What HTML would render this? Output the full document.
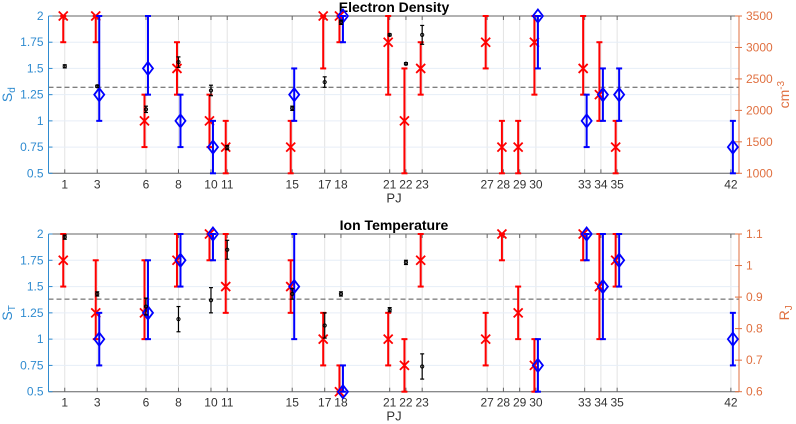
<!DOCTYPE html>
<html><head><meta charset="utf-8">
<style>
html,body{margin:0;padding:0;background:#fff;}
svg{display:block;font-family:"Liberation Sans",sans-serif;}
</style></head>
<body>
<svg id="chart" width="796" height="424" viewBox="0 0 796 424" xmlns="http://www.w3.org/2000/svg"></svg>
<script>
// ---- data ----
const pjTicks = [1,3,6,8,10,11,15,17,18,21,22,23,27,28,29,30,33,34,35,42];
const leftTicks = [0.5,0.75,1,1.25,1.5,1.75,2];
// Panel 1: Electron Density (S_d)
const sdRedPJ  = [1,3,6,8,10,11,15,17,18,21,22,23,27,28,29,30,33,34,35];
const sdRedVal = [2,2,1,1.5,1,0.75,0.75,2,2,1.75,1,1.5,1.75,0.75,0.75,1.75,1.5,1.25,0.75];
const sdRedLo  = [1.75,1.75,0.75,1.25,0.75,0.5,0.5,1.5,1.75,1.25,0.5,1.25,1.5,0.5,0.5,1.25,1.25,1,0.5];
const sdRedHi  = [2,2,1.25,1.75,1.25,1,1,2,2,2,1.5,1.75,2,1,1,2,2,1.75,1];
const sdBluePJ  = [3,6,8,10,15,18,30,33,34,35,42];
const sdBlueVal = [1.25,1.5,1,0.75,1.25,2,2,1,1.25,1.25,0.75];
const sdBlueLo  = [1,1.25,0.75,0.5,1,1.75,1.5,0.75,1,1,0.5];
const sdBlueHi  = [2,2,1.25,1,1.5,2,2,1.25,1.5,1.5,1];
const sdBlkPJ  = [1,3,6,8,10,11,15,17,18,21,22,23];
const sdBlkVal = [1.52,1.33,1.11,1.56,1.29,0.745,1.12,1.37,1.94,1.82,1.545,1.82];
const sdBlkErr = [0.015,0.01,0.03,0.05,0.05,0.02,0.02,0.05,0.02,0.01,0.01,0.09];
const sdMean = 1.32;
const sdRightTicks = [1000,1500,2000,2500,3000,3500];
// Panel 2: Ion Temperature (S_T)
const stRedPJ  = [1,3,6,8,10,11,15,17,18,21,22,23,27,28,29,30,33,34,35];
const stRedVal = [1.75,1.25,1.25,1.75,2,1.5,1.5,1,0.5,1,0.75,1.75,1,2,1.25,0.75,2,1.5,1.75];
const stRedLo  = [1.5,1,1,1.5,1.75,1.25,1.25,0.75,0.5,0.75,0.5,1.5,0.75,1.75,1,0.5,1.75,1,1.5];
const stRedHi  = [2,1.75,1.75,2,2,2,1.75,1.25,0.75,1.25,1,2,1.25,2,1.5,1,2,2,2];
const stBluePJ  = [3,6,8,10,15,18,30,33,34,35,42];
const stBlueVal = [1,1.25,1.75,2,1.5,0.5,0.75,2,1.5,1.75,1];
const stBlueLo  = [0.75,1,1.5,1.75,1,0.5,0.5,1.75,1,1.5,0.75];
const stBlueHi  = [1.25,1.75,2,2,2,0.75,1,2,2,2,1.25];
const stBlkPJ  = [1,3,6,8,10,11,15,17,18,21,22,23];
const stBlkVal = [1.97,1.43,1.31,1.19,1.37,1.85,1.43,1.13,1.43,1.28,1.73,0.74];
const stBlkErr = [0.02,0.02,0.08,0.12,0.12,0.09,0.05,0.12,0.02,0.02,0.02,0.12];
const stMean = 1.38;
const stRightTicks = [0.6,0.7,0.8,0.9,1.0,1.1];

const NS="http://www.w3.org/2000/svg";
const svg=document.getElementById('chart');
const ORANGE="#D95319", LBLUE="#2f8bd0", RLAB="#e07040";
function mk(tag,attrs,parent,text){const e=document.createElementNS(NS,tag);for(const k in attrs)e.setAttribute(k,attrs[k]);if(text!==undefined)e.textContent=text;(parent||svg).appendChild(e);return e;}

const X0=48.5,X1=739,PJmin=0,PJmax=42.5;
function xs(pj){return X0+(pj-PJmin)/(PJmax-PJmin)*(X1-X0);}

function panel(cfg){
  const g=mk('g',{});
  
  
  const T=cfg.top,B=cfg.bottom;
  const ys=v=>B-(v-0.5)/1.5*(B-T);
  const yr=v=>B-(v-cfg.rmin)/(cfg.rmax-cfg.rmin)*(B-T);
  for(const p of pjTicks){const l=mk('line',{x1:xs(p),x2:xs(p),y1:T,y2:B,stroke:'#e3e3e3','stroke-width':1},g);
    }
  for(const v of leftTicks){const l=mk('line',{x1:X0,x2:X1,y1:ys(v),y2:ys(v),stroke:'#e6eef7','stroke-width':1},g);
    }
  const d=mk('line',{x1:X0,x2:X1,y1:ys(cfg.mean),y2:ys(cfg.mean),stroke:'#555','stroke-width':1,'stroke-dasharray':'5,3'},g);
  
  mk('line',{x1:X0,x2:X1,y1:T,y2:T,stroke:'#666','stroke-width':1},g);
  const xa=mk('line',{x1:X0,x2:X1,y1:B,y2:B,stroke:'#666','stroke-width':1},g);
  
  const la=mk('line',{x1:X0,x2:X0,y1:T,y2:B,stroke:LBLUE,'stroke-width':1},g);
  
  const ra=mk('line',{x1:X1,x2:X1,y1:T,y2:B,stroke:RLAB,'stroke-width':1},g);
  
  for(const p of pjTicks){
    mk('line',{x1:xs(p),x2:xs(p),y1:B,y2:B-4,stroke:'#666'},g);
    mk('line',{x1:xs(p),x2:xs(p),y1:T,y2:T+4,stroke:'#666'},g);
    const t=mk('text',{x:xs(p),y:B+15,'text-anchor':'middle','font-size':12,fill:'#333'},g,String(p));
    
  }
  for(const v of leftTicks){
    mk('line',{x1:X0,x2:X0+4,y1:ys(v),y2:ys(v),stroke:LBLUE},g);
    const t=mk('text',{x:X0-5,y:ys(v)+4,'text-anchor':'end','font-size':12,fill:LBLUE},g,String(v));
    
  }
  for(const v of cfg.rticks){
    mk('line',{x1:X1,x2:X1-4,y1:yr(v),y2:yr(v),stroke:RLAB},g);
    mk('line',{x1:X1,x2:X1+3,y1:yr(v),y2:yr(v),stroke:RLAB},g);
    const t=mk('text',{x:X1+7,y:yr(v)+4,'text-anchor':'start','font-size':12,fill:RLAB},g,cfg.rfmt(v));
    
  }
  const tt=mk('text',{x:394,y:T-4,'text-anchor':'middle','font-size':14,'font-weight':'bold',fill:'#000'},g,cfg.title);
  
  const xl=mk('text',{x:394,y:B+29,'text-anchor':'middle','font-size':13,fill:'#333'},g,'PJ');
  
  const yl=mk('text',{x:0,y:0,'text-anchor':'middle','font-size':14,fill:LBLUE,transform:`translate(12,${(T+B)/2}) rotate(-90)`},g);
  
  mk('tspan',{},yl,'S');mk('tspan',{'font-size':10,dy:3},yl,cfg.sub);
  const rl=mk('text',{x:0,y:0,'text-anchor':'middle','font-size':14,fill:RLAB,transform:`translate(789,${(T+B)/2}) rotate(-90)`},g);
  
  if(cfg.rlabel==='cm'){mk('tspan',{},rl,'cm');mk('tspan',{'font-size':10,dy:-5},rl,'-3');}
  else {mk('tspan',{},rl,'R');mk('tspan',{'font-size':10,dy:3},rl,'J');}
  function ebar(x,lo,hi,color,w,cap,name){
    const eg=mk('g',{},g);
    
    
    mk('line',{x1:x,x2:x,y1:ys(lo),y2:ys(hi),stroke:color,'stroke-width':w},eg);
    mk('line',{x1:x-cap,x2:x+cap,y1:ys(lo),y2:ys(lo),stroke:color,'stroke-width':w},eg);
    mk('line',{x1:x-cap,x2:x+cap,y1:ys(hi),y2:ys(hi),stroke:color,'stroke-width':w},eg);
    return eg;
  }
  cfg.red.pj.forEach((p,i)=>{
    const x=xs(p)-1.5;
    const eg=ebar(x,cfg.red.lo[i],cfg.red.hi[i],'#ff0000',2,3,'red-errorbar');
    const y=ys(cfg.red.val[i]),s=4.5;
    const m=mk('path',{d:`M${x-s},${y-s}L${x+s},${y+s}M${x-s},${y+s}L${x+s},${y-s}`,stroke:'#ff0000','stroke-width':1.8,fill:'none'},eg);
    
  });
  cfg.blue.pj.forEach((p,i)=>{
    const x=xs(p)+2;
    const eg=ebar(x,cfg.blue.lo[i],cfg.blue.hi[i],'#0000ff',2,3,'blue-errorbar');
    const y=ys(cfg.blue.val[i]),w=5,h=6.5;
    const m=mk('path',{d:`M${x},${y-h}L${x+w},${y}L${x},${y+h}L${x-w},${y}Z`,stroke:'#0000ff','stroke-width':1.8,fill:'none'},eg);
    
  });
  cfg.blk.pj.forEach((p,i)=>{
    const x=xs(p);const v=cfg.blk.val[i],e=cfg.blk.err[i];
    const eg=ebar(x,v-e,v+e,'#000',1.2,2,'black-errorbar');
    const m=mk('circle',{cx:x,cy:ys(v),r:1.6,fill:'none',stroke:'#000','stroke-width':1},eg);
    
  });
}

panel({name:'electron-density-panel',title:'Electron Density',sub:'d',top:16,bottom:173.3,mean:sdMean,
  rmin:1000,rmax:3500,rticks:sdRightTicks,rfmt:v=>String(v),rlabel:'cm',
  red:{pj:sdRedPJ,val:sdRedVal,lo:sdRedLo,hi:sdRedHi},
  blue:{pj:sdBluePJ,val:sdBlueVal,lo:sdBlueLo,hi:sdBlueHi},
  blk:{pj:sdBlkPJ,val:sdBlkVal,err:sdBlkErr}});
panel({name:'ion-temperature-panel',title:'Ion Temperature',sub:'T',top:234,bottom:391.7,mean:stMean,
  rmin:0.6,rmax:1.1,rticks:stRightTicks,rfmt:v=>(v===1?'1':String(v)),rlabel:'rj',
  red:{pj:stRedPJ,val:stRedVal,lo:stRedLo,hi:stRedHi},
  blue:{pj:stBluePJ,val:stBlueVal,lo:stBlueLo,hi:stBlueHi},
  blk:{pj:stBlkPJ,val:stBlkVal,err:stBlkErr}});
</script>
</body></html>
